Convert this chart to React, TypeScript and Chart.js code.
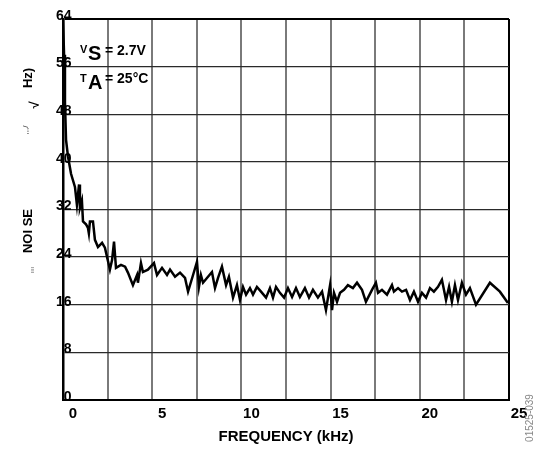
import React, { useEffect, useRef } from 'react';
import { Chart, registerables } from 'chart.js';

Chart.register(...registerables);

// Frequency (kHz) and voltage noise (nV/√Hz)
const freqKHz = [
  0.0, 0.06, 0.11, 0.17, 0.28, 0.45, 0.67, 0.78, 0.9, 0.95, 1.06, 1.12, 1.29, 1.4, 1.45, 1.51, 1.68, 1.79, 1.96,
  2.19, 2.35, 2.63, 2.75, 2.86, 2.97, 3.25, 3.48, 3.64, 3.92, 4.15, 4.2, 4.37, 4.48, 4.76, 5.1, 5.27, 5.55,
  5.83, 6.0, 6.28, 6.56, 6.84, 7.01, 7.29, 7.51, 7.62, 7.73, 7.85, 8.07, 8.35, 8.52, 8.69, 8.91, 9.14, 9.3,
  9.53, 9.75, 9.92, 10.09, 10.26, 10.48, 10.65, 10.87, 11.1, 11.38, 11.6, 11.77, 11.94, 12.16, 12.39, 12.61,
  12.84, 13.06, 13.28, 13.56, 13.79, 14.01, 14.29, 14.52, 14.74, 14.97, 15.08, 15.19, 15.36, 15.53, 15.75,
  15.97, 16.25, 16.48, 16.76, 16.98, 17.32, 17.54, 17.66, 17.88, 18.16, 18.44, 18.55, 18.78, 19.0, 19.23,
  19.45, 19.67, 19.9, 20.12, 20.35, 20.57, 20.79, 21.02, 21.24, 21.47, 21.64, 21.8, 21.97, 22.14, 22.36,
  22.59, 22.81, 23.15, 23.93, 24.49, 24.94,
];
const noise = [
  64, 58, 50, 43.7, 40.9, 38, 35.8, 32.8, 36.2, 32.3, 33.5, 30, 29.5, 28.9, 28.0, 30, 30, 26.9, 25.7,
  26.4, 25.6, 21.9, 23.5, 26.6, 22.2, 22.7, 22.4, 21.4, 19.3, 21, 19.7, 23, 21.5, 21.9, 23, 21, 22.2,
  21, 21.9, 20.7, 21.4, 20.5, 18.2, 21, 23.2, 19, 21, 19.7, 20.5, 21.5, 18.8, 20.5, 22.4, 19.3, 20.7,
  17.2, 19.3, 16.8, 19, 17.7, 18.8, 17.7, 19, 18.2, 17.2, 18.8, 17.2, 19, 18, 17.2, 18.8,
  17.3, 18.8, 17.3, 18.8, 17.2, 18.5, 17.2, 18.2, 15.1, 19.3, 15.1, 18, 16.5, 18, 18.5,
  19.3, 18.8, 19.7, 18.5, 16.5, 18.5, 19.7, 18, 18.5, 17.7, 19.3, 18.2, 18.8, 18.2, 18.5,
  16.8, 18.2, 16.5, 18, 17.2, 18.8, 18.2, 19, 20.2, 16.8, 19, 16.5, 19.3, 16.8, 19.7,
  17.7, 18.8, 16, 19.7, 18.2, 16.3,
];
const xTickLabels = [0, 5, 10, 15, 20, 25];
const yTickLabels = [0, 8, 16, 24, 32, 40, 48, 56, 64];

const FONT = '"Liberation Sans", Arial, Helvetica, sans-serif';

const textPlugin = {
  id: 'extraText',
  afterDraw(chart: any) {
    const ctx = chart.ctx as CanvasRenderingContext2D;
    const { left } = chart.chartArea;
    ctx.save();
    ctx.fillStyle = '#000';
    ctx.textAlign = 'left';
    ctx.textBaseline = 'alphabetic';
    const ax = left + 17;
    // VS = 2.7V
    ctx.font = `bold 11px ${FONT}`;
    ctx.fillText('V', ax, 53);
    ctx.font = `bold 20px ${FONT}`;
    ctx.fillText('S', ax + 8, 60);
    ctx.font = `bold 14px ${FONT}`;
    ctx.fillText('= 2.7V', ax + 25, 55);
    // TA = 25°C
    ctx.font = `bold 11px ${FONT}`;
    ctx.fillText('T', ax, 82);
    ctx.font = `bold 20px ${FONT}`;
    ctx.fillText('A', ax + 8, 89);
    ctx.font = `bold 14px ${FONT}`;
    ctx.fillText('= 25°C', ax + 25, 83);

    const rot = (t: string, x: number, y: number, font: string, color = '#000') => {
      ctx.save();
      ctx.translate(x, y);
      ctx.rotate(-Math.PI / 2);
      ctx.font = font;
      ctx.fillStyle = color;
      ctx.textAlign = 'center';
      ctx.textBaseline = 'middle';
      ctx.fillText(t, 0, 0);
      ctx.restore();
    };
    rot('NOI SE', 28, 231, `bold 13px ${FONT}`);
    rot('Hz)', 28, 78, `bold 13px ${FONT}`);
    rot('√', 35, 105, `bold 13px ${FONT}`);
    rot(',,,/', 26, 130, `8px ${FONT}`, '#444');
    rot('ıııı', 32, 270, `6px ${FONT}`, '#666');
    rot('01525-039', 530, 418, `10px ${FONT}`, '#888');
    ctx.restore();
  },
};

export default function App() {
  const ref = useRef<HTMLCanvasElement | null>(null);

  useEffect(() => {
    if (!ref.current) return;
    const points = freqKHz.map((f, i) => ({ x: f, y: noise[i] }));
    const chart = new Chart(ref.current, {
      type: 'line',
      data: {
        datasets: [
          {
            data: points,
            borderColor: '#000',
            borderWidth: 2.5,
            pointRadius: 0,
            tension: 0,
            fill: false,
          },
        ],
      },
      options: {
        animation: false,
        responsive: false,
        layout: { padding: { left: 0, right: 26, top: 19, bottom: 0 } },
        plugins: { legend: { display: false }, tooltip: { enabled: false } },
        scales: {
          x: {
            type: 'linear',
            min: 0,
            max: 25,
            afterFit: (s: any) => {
              s.height = 50;
            },
            afterBuildTicks: (s: any) => {
              const t: any[] = [];
              for (let v = 0; v <= 25; v += 2.5) t.push({ value: v });
              s.ticks = t;
            },
            ticks: {
              autoSkip: false,
              maxRotation: 0,
              padding: 5,
              labelOffset: 10,
              color: '#000',
              font: { family: FONT, size: 15, weight: 'bold' },
              callback: (v: any) => (xTickLabels.includes(Number(v)) ? String(v) : ''),
            },
            grid: {
              drawTicks: false,
              color: (c: any) => (c.tick && c.tick.value === 25 ? '#000' : '#7a7a7a'),
              lineWidth: 2,
            },
            border: { color: '#000', width: 2 },
            title: {
              display: true,
              text: 'FREQUENCY (kHz)',
              color: '#000',
              font: { family: FONT, size: 15, weight: 'bold' },
              padding: { top: 0, bottom: 4 },
            },
          },
          y: {
            type: 'linear',
            min: 0,
            max: 64,
            afterFit: (s: any) => {
              s.width = 63;
            },
            afterBuildTicks: (s: any) => {
              s.ticks = yTickLabels.map((v) => ({ value: v }));
            },
            ticks: {
              mirror: true,
              crossAlign: 'far',
              padding: -7,
              labelOffset: -3,
              color: '#000',
              font: { family: FONT, size: 14, weight: 'bold' },
            },
            grid: {
              drawTicks: false,
              color: (c: any) => (c.tick && c.tick.value === 64 ? '#000' : '#2a2a2a'),
              lineWidth: (c: any) => (c.tick && c.tick.value === 64 ? 2 : 1.3),
            },
            border: { color: '#000', width: 2.5 },
          },
        },
      },
      plugins: [textPlugin],
    });
    return () => chart.destroy();
  }, []);

  return (
    <div style={{ position: 'fixed', left: 0, top: 0, width: 535, height: 450, background: '#fff' }}>
      <canvas ref={ref} width={535} height={450} />
    </div>
  );
}
